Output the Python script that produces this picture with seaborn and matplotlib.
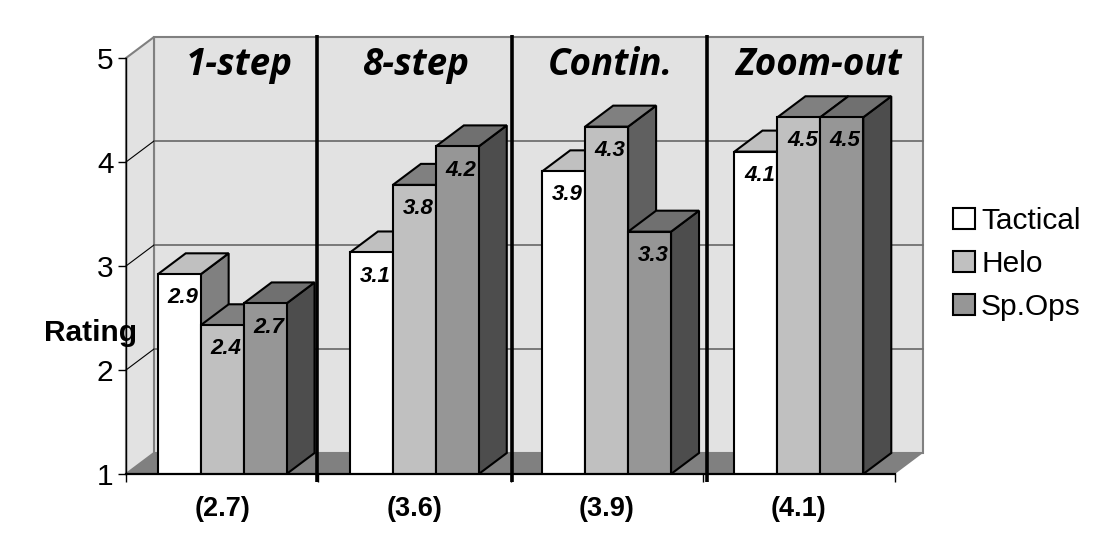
#!/usr/bin/env python3

import pandas as pd
import seaborn as sns
from matplotlib import pyplot as plt
from matplotlib.patches import Patch, Polygon

tasks = ["1-step", "8-step", "Contin.", "Zoom-out"]
overall = ["(2.7)", "(3.6)", "(3.9)", "(4.1)"]
units = ["Tactical", "Helo", "Sp.Ops"]

# bar heights as drawn, the printed labels are rounded a bit differently
tactical = [2.92, 3.13, 3.91, 4.10]
helo = [2.43, 3.78, 4.34, 4.43]
spops = [2.64, 4.15, 3.33, 4.43]
tactical_labels = ["2.9", "3.1", "3.9", "4.1"]
helo_labels = ["2.4", "3.8", "4.3", "4.5"]
spops_labels = ["2.7", "4.2", "3.3", "4.5"]

front_colors = ["#ffffff", "#c0c0c0", "#969696"]
top_colors = ["#c0c0c0", "#808080", "#707070"]
side_colors = ["#808080", "#606060", "#4d4d4d"]

y_ticks = [1, 2, 3, 4, 5]
dividers = [0.491, 1.508, 2.522]
header_x = [0.09, 1.008, 2.018, 3.10]

# depth of the fake 3d box in data units
DX = 28 / 192.25
DY = 21 / 104
X0, X1, Y0, Y1 = -0.5, 3.5, 1, 5

sns.set_style("white")
plt.rcParams["font.family"] = ["Liberation Sans", "DejaVu Sans"]
plt.rcParams["text.color"] = "black"
plt.rcParams["xtick.labelcolor"] = "black"
plt.rcParams["ytick.labelcolor"] = "black"
plt.rcParams["axes.labelcolor"] = "black"

df = pd.DataFrame({
    "Task": tasks * 3,
    "Unit": [u for u in units for _ in tasks],
    "Rating": tactical + helo + spops,
})

fig = plt.figure(figsize=(10.93, 5.52), dpi=100)
ax = fig.add_axes([126 / 1093, 78 / 552, 769 / 1093, 416 / 552])
ax.patch.set_visible(False)

sns.barplot(df, x="Task", y="Rating", hue="Unit", hue_order=units, order=tasks,
            palette=front_colors, saturation=1, width=0.67, gap=0,
            edgecolor="black", linewidth=1.5, legend=False, ax=ax)
ax.set_xlim(X0, X1)
ax.set_ylim(Y0, Y1)


def face(points, color, z, edge="black", lw=1.5):
    ax.add_patch(Polygon(points, closed=True, facecolor=color, edgecolor=edge,
                         linewidth=lw, zorder=z, clip_on=False, joinstyle="miter"))


# walls and floor
face([(X0 + DX, Y0 + DY), (X1 + DX, Y0 + DY), (X1 + DX, Y1 + DY), (X0 + DX, Y1 + DY)],
     "#e2e2e2", 0.1, "#808080", 1.5)
face([(X0, Y0), (X0 + DX, Y0 + DY), (X0 + DX, Y1 + DY), (X0, Y1)], "#e2e2e2", 0.15, "#808080", 1.5)
face([(X0, Y0), (X0 + DX, Y0 + DY), (X1 + DX, Y0 + DY), (X1, Y0)], "#808080", 0.2, "none", 0)

for t in y_ticks[1:-1]:
    ax.plot([X0 + DX, X1 + DX], [t + DY, t + DY], color="#707070", lw=1.3, zorder=0.3, clip_on=False)
    ax.plot([X0, X0 + DX], [t, t + DY], color="black", lw=0.8, zorder=0.3, clip_on=False)

# side and top of each bar, painted left to right
label_sets = [tactical_labels, helo_labels, spops_labels]
for j, bars in enumerate(ax.containers):
    for i, bar in enumerate(bars):
        left, right, top = bar.get_x(), bar.get_x() + bar.get_width(), bar.get_height()
        face([(right, Y0), (right + DX, Y0 + DY), (right + DX, top + DY), (right, top)],
             side_colors[j], 2 + j)
        face([(left, top), (left + DX, top + DY), (right + DX, top + DY), (right, top)],
             top_colors[j], 2 + j)
        bar.set_zorder(2.5 + j)
        ax.annotate(label_sets[j][i], ((left + right) / 2, top), xytext=(2.5, -17),
                    textcoords="offset points", ha="center", va="center",
                    fontsize=16, fontweight="bold", fontstyle="italic", zorder=9)

for d in dividers:
    ax.plot([d, d], [Y0 - 0.08, Y1 + 0.22], color="black", lw=2.6, zorder=8, clip_on=False,
            solid_capstyle="butt")

for x, name in zip(header_x, tasks):
    ax.text(x, 4.93, name, ha="center", va="center", fontsize=26.5, fontweight="bold",
            fontstyle="italic", family=["Open Sans", "DejaVu Sans"], zorder=9)

ax.set_yticks(y_ticks)
ax.set_xticks(range(len(tasks)), overall, fontsize=19.5, fontweight="bold")
ax.set_xticks([X0 + k for k in range(len(tasks) + 1)], minor=True)
ax.tick_params(axis="x", which="major", length=0, pad=16)
ax.tick_params(axis="x", which="minor", bottom=True, length=6, width=1, color="black")
ax.tick_params(axis="y", left=True, length=6, width=1, color="black", labelsize=21.5, pad=3)
ax.set_xlabel("")
ax.set_ylabel("Rating", rotation=0, fontsize=21.5, fontweight="bold", ha="center", va="center")
ax.yaxis.set_label_coords((91 - 126) / 769, (474 - 333) / 416)

sns.despine(ax=ax)
for name in ["left", "bottom"]:
    ax.spines[name].set_color("black")
    ax.spines[name].set_zorder(7)
ax.spines["left"].set_linewidth(1)
ax.spines["bottom"].set_linewidth(1.6)

handles = [Patch(facecolor=c, edgecolor="black", linewidth=1.5) for c in front_colors]
ax.legend(handles, units, loc="center left", bbox_to_anchor=(953 / 1093, 1 - 264 / 552),
          bbox_transform=fig.transFigure, frameon=False, fontsize=21.5, handlelength=0.72,
          handleheight=0.72, handletextpad=0.22, labelspacing=0.5, borderpad=0, borderaxespad=0)

fig.savefig("out.png", dpi=100)
